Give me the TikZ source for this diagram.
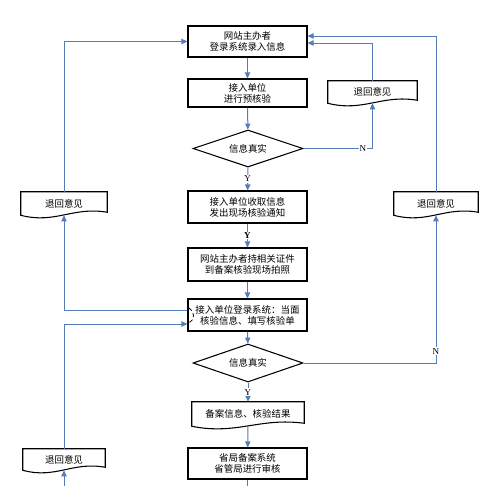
\documentclass[tikz,border=0pt]{standalone}
\usepackage{fontspec}
\setmainfont{Liberation Serif}
\newfontfamily\cjk{Noto Sans CJK SC}
\usetikzlibrary{shapes.geometric,arrows.meta,calc}
\definecolor{conncol}{RGB}{84,125,184}
\newcommand{\docshape}[1]{\draw[black,line width=0.8pt] (#1.south west) -- (#1.north west) -- (#1.north east) -- ($(#1.south east)+(0,-3)$) .. controls ($(#1.south west)!0.6!(#1.south east)+(0,-9)$) and ($(#1.south west)!0.4!(#1.south east)+(0,9)$) .. cycle;}
\begin{document}
\begin{tikzpicture}[x=0.75pt,y=-0.75pt,
  cjkfont/.style={font=\cjk\fontsize{7.1}{8.4}\selectfont},
  box/.style={draw=black,line width=0.8pt,fill=white,minimum width=89.25pt,inner sep=1pt,align=center,cjkfont},
  dec/.style={draw=black,line width=0.8pt,shape=diamond,minimum width=82.5pt,minimum height=27.75pt,inner sep=0pt,aspect=3,cjkfont},
  docnode/.style={inner sep=0pt,cjkfont},
  conn/.style={draw=conncol,line width=0.75pt,-{Triangle[length=4.5pt,width=4pt]}},
  plain/.style={draw=conncol,line width=0.75pt},
  lbl/.style={fill=white,inner sep=0.6pt,font=\fontsize{6.8}{7}\selectfont}]
\useasboundingbox (0,0) rectangle (500,486);
% nodes
\node[box,minimum height=23.25pt] (b1) at (247.5,41.5) {网站主办者\\登录系统录入信息};
\node[box,minimum height=21pt] (b2) at (247.5,93) {接入单位\\进行预核验};
\node[dec] (d1) at (248,148.5) {信息真实};
\node[docnode,minimum width=66.75pt,minimum height=16.5pt] (r1) at (372.5,92) {退回意见};
\node[box,minimum height=24pt] (b3) at (247.5,207) {接入单位收取信息\\发出现场核验通知};
\node[box,minimum height=24.75pt] (b4) at (247.5,264.5) {网站主办者持相关证件\\到备案核验现场拍照};
\node[box,minimum height=24pt] (b5) at (247.5,315) {接入单位登录系统：当面\\核验信息、填写核验单};
\node[dec,minimum height=28.5pt] (d2) at (248,363) {信息真实};
\node[docnode,minimum width=84pt,minimum height=18pt] (doc2) at (248,414) {备案信息、核验结果};
\node[box,minimum height=23.25pt] (b6) at (247.5,463.5) {省局备案系统\\省管局进行审核};
\node[docnode,minimum width=64.5pt,minimum height=17.25pt] (L1) at (64,203.5) {退回意见};
\node[docnode,minimum width=63pt,minimum height=17.25pt] (R1) at (436,203.5) {退回意见};
\node[docnode,minimum width=61.5pt,minimum height=15.75pt] (L2) at (64,459.5) {退回意见};
\docshape{r1}
\docshape{doc2}
\docshape{L1}
\docshape{R1}
\docshape{L2}
% helper coordinates
\coordinate (t1) at (0,36);
\coordinate (t2) at (0,43);
\coordinate (c5a) at (0,310);
\coordinate (c5b) at (0,324);
\coordinate (bend) at (247.5,486);
\coordinate (lb) at (64,486);
% main flow
\draw[conn] (b1) -- (b2);
\draw[conn] (b2) -- (d1);
\draw[conn] (d1) -- node[lbl]{Y} (b3);
\draw[conn] (b3) -- node[lbl,font=\bfseries\fontsize{6.8}{7}\selectfont]{Y} (b4);
\draw[conn] (b4) -- (b5);
\draw[conn] (b5) -- (d2);
\draw[conn] (d2) -- node[lbl]{Y} (doc2);
\draw[conn] (doc2.south) -- (b6);
\draw[plain] (b6) -- (bend);
% feedback
\draw[conn] (d1.east) -| node[lbl,pos=0.43]{N} (r1.south);
\draw[conn] (r1.north) |- (b1.east |- t2);
\draw[conn] (d2.east) -| node[lbl,pos=0.54]{N} (R1.south);
\draw[conn] (R1.north) |- (b1.east |- t1);
\draw[conn] (L1.north) |- (b1.west);
\draw[conn] (b5.west |- c5a) -| (L1.south);
\draw[conn] (L2.north) |- (b5.west |- c5b);
\draw[conn] (lb) -- (L2.south);
% small mark at the left edge of b5
\draw[black,line width=0.6pt,densely dashed] (189,308) .. controls (195,311) and (195,320) .. (189,323);
\end{tikzpicture}
\end{document}
